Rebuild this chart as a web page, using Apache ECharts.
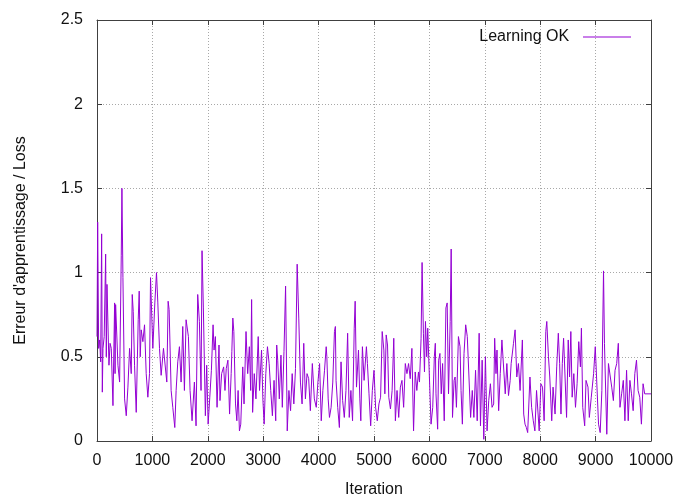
<!DOCTYPE html>
<html lang="fr">
<head>
    <meta charset="UTF-8">
    <title>Learning OK</title>
    <script src="https://cdn.jsdelivr.net/npm/echarts@6/dist/echarts.min.js"></script>
    <style>
        html, body { margin: 0; padding: 0; background: #fff; }
    </style>
</head>
<body>
    <div id="ec" style="width:678px;height:497px"></div>
<script>
    // iterations and loss
    var iters = [
        0, 12, 30, 48, 66, 84, 96, 108, 130, 156, 168, 180, 216, 236, 258, 288, 318, 326, 336, 378,
        408, 438, 450, 468, 498, 528, 558, 588, 618, 636, 654, 678, 708, 744, 762, 780, 798, 828, 858, 888,
        918, 948, 966, 978, 1008, 1044, 1074, 1098, 1128, 1158, 1200, 1236, 1260, 1284, 1302, 1338, 1368, 1404, 1428, 1458,
        1488, 1518, 1548, 1578, 1608, 1650, 1680, 1716, 1758, 1788, 1818, 1848, 1878, 1896, 1920, 1956, 1980,
        2006, 2036, 2065, 2095, 2113, 2137, 2167, 2202, 2220, 2250, 2286, 2310, 2333, 2363, 2393, 2422, 2434, 2452, 2470, 2500,
        2524, 2547, 2571, 2595, 2631, 2654, 2690, 2720, 2750, 2774, 2791, 2809, 2839, 2869, 2910, 2934, 2970, 2994,
        3017, 3047, 3077, 3107, 3136, 3166, 3196, 3226, 3244, 3262, 3291, 3321, 3345, 3375, 3404, 3434, 3464, 3494,
        3523, 3553, 3583, 3613, 3642, 3672, 3702, 3732, 3762, 3791, 3821, 3851, 3887, 3923, 3958, 3988,
        4018, 4048, 4077, 4107, 4137, 4149, 4173, 4196, 4226, 4256, 4286, 4303, 4315, 4345, 4375, 4405, 4434, 4464, 4494,
        4524, 4553, 4583, 4613, 4643, 4660, 4684, 4720, 4744, 4762, 4791, 4821, 4863, 4881, 4910, 4940, 4970,
        5000, 5029, 5059, 5089, 5119, 5148, 5178, 5196, 5220, 5244, 5267, 5297, 5327, 5357, 5386, 5416, 5446, 5476,
        5505, 5535, 5565, 5595, 5624, 5654, 5684, 5714, 5744, 5773, 5803, 5821, 5850, 5868, 5892, 5911, 5929, 5952, 5970,
        6000, 6030, 6060, 6089, 6107, 6119, 6149, 6167, 6190, 6214, 6238, 6268, 6298, 6321, 6345, 6375, 6393, 6417, 6446, 6464,
        6488, 6524, 6553, 6571, 6595, 6625, 6655, 6684, 6714, 6744, 6774, 6803, 6833, 6863, 6898, 6922, 6952, 6982,
        7011, 7041, 7071, 7101, 7131, 7160, 7178, 7202, 7220, 7250, 7279, 7309, 7339, 7369, 7398, 7428, 7458, 7476,
        7518, 7547, 7577, 7607, 7637, 7678, 7702, 7726, 7750, 7774, 7815, 7845, 7875, 7904, 7934, 7982,
        8012, 8042, 8071, 8101, 8119, 8149, 8173, 8208, 8232, 8268, 8298, 8327, 8351, 8375, 8399, 8422, 8446, 8476,
        8506, 8530, 8553, 8577, 8607, 8637, 8666, 8696, 8726, 8744, 8768, 8803, 8827, 8863, 8887, 8922, 8964, 8994,
        9023, 9053, 9083, 9113, 9143, 9160, 9184, 9202, 9232, 9262, 9291, 9321, 9351, 9381, 9410, 9440, 9470,
        9500, 9529, 9559, 9589, 9619, 9648, 9678, 9708, 9738, 9767, 9797, 9827, 9857, 9886, 9916, 9946, 10000
    ]
    var loss = [
        0.62, 1.30, 0.55, 0.60, 0.47, 1.23, 0.29, 0.55, 0.62, 1.11, 0.50, 0.93, 0.45, 0.58, 0.55, 0.21, 0.82, 0.40, 0.81, 0.45,
        0.35, 1.10, 1.50, 0.97, 0.25, 0.15, 0.32, 0.55, 0.40, 0.87, 0.77, 0.45, 0.17, 0.72, 0.89, 0.50, 0.66, 0.59, 0.69, 0.40,
        0.26, 0.40, 0.97, 0.85, 0.55, 0.82, 1.00, 0.82, 0.55, 0.39, 0.55, 0.55, 0.35, 0.83, 0.78, 0.30, 0.20, 0.08, 0.30, 0.47,
        0.56, 0.35, 0.68, 0.30, 0.72, 0.62, 0.30, 0.12, 0.35, 0.09, 0.87, 0.71, 0.30, 1.13, 0.79, 0.15, 0.45,
        0.10, 0.26, 0.42, 0.69, 0.54, 0.62, 0.20, 0.57, 0.24, 0.40, 0.44, 0.30, 0.43, 0.48, 0.16, 0.40, 0.53, 0.73, 0.65, 0.22,
        0.12, 0.30, 0.06, 0.10, 0.44, 0.22, 0.65, 0.40, 0.56, 0.30, 0.84, 0.17, 0.40, 0.25, 0.62, 0.30, 0.54, 0.25,
        0.10, 0.40, 0.56, 0.46, 0.30, 0.15, 0.36, 0.12, 0.57, 0.48, 0.25, 0.51, 0.20, 0.53, 0.92, 0.06, 0.30, 0.18,
        0.40, 0.22, 0.43, 1.05, 0.73, 0.35, 0.22, 0.58, 0.25, 0.40, 0.37, 0.18, 0.46, 0.25, 0.20, 0.35,
        0.46, 0.12, 0.30, 0.42, 0.56, 0.50, 0.25, 0.14, 0.20, 0.35, 0.65, 0.68, 0.36, 0.20, 0.08, 0.47, 0.24, 0.14, 0.30,
        0.64, 0.14, 0.30, 0.12, 0.67, 0.83, 0.32, 0.54, 0.25, 0.12, 0.56, 0.36, 0.56, 0.46, 0.28, 0.09, 0.30,
        0.42, 0.20, 0.12, 0.22, 0.26, 0.65, 0.54, 0.28, 0.63, 0.57, 0.26, 0.19, 0.30, 0.61, 0.12, 0.30, 0.14, 0.32,
        0.36, 0.20, 0.46, 0.40, 0.46, 0.37, 0.55, 0.06, 0.41, 0.30, 0.41, 0.35, 0.61, 1.06, 0.64, 0.41, 0.71, 0.50, 0.67,
        0.38, 0.10, 0.20, 0.50, 0.58, 0.28, 0.07, 0.48, 0.52, 0.28, 0.46, 0.12, 0.79, 0.82, 0.28, 0.71, 1.14, 0.14, 0.36, 0.38,
        0.20, 0.62, 0.56, 0.30, 0.10, 0.52, 0.69, 0.62, 0.38, 0.14, 0.30, 0.14, 0.42, 0.12, 0.64, 0.09, 0.48, 0.01,
        0.50, 0.06, 0.24, 0.34, 0.20, 0.22, 0.61, 0.40, 0.54, 0.18, 0.40, 0.60, 0.59, 0.28, 0.46, 0.27, 0.36, 0.46,
        0.58, 0.66, 0.38, 0.46, 0.30, 0.60, 0.16, 0.10, 0.08, 0.05, 0.38, 0.20, 0.12, 0.06, 0.30, 0.06,
        0.34, 0.32, 0.12, 0.65, 0.71, 0.50, 0.38, 0.12, 0.32, 0.16, 0.44, 0.64, 0.46, 0.16, 0.46, 0.61, 0.60, 0.14,
        0.60, 0.38, 0.65, 0.26, 0.40, 0.20, 0.34, 0.59, 0.44, 0.67, 0.20, 0.09, 0.36, 0.32, 0.14, 0.26, 0.40, 0.56,
        0.57, 0.10, 0.05, 0.30, 1.01, 0.58, 0.58, 0.04, 0.46, 0.46, 0.32, 0.24, 0.42, 0.46, 0.58, 0.20, 0.28,
        0.36, 0.12, 0.42, 0.12, 0.36, 0.28, 0.18, 0.40, 0.48, 0.30, 0.26, 0.10, 0.34, 0.28, 0.28, 0.28, 0.28
    ]

    var font = 'Liberation Sans'
    var borderColor = '#404040'
    var gridColor = '#a8a8a8'

    var mychart = echarts.init(document.getElementById('ec'))

    function frameAxis(pos, withLabels, margin) {
        return {
            type: 'value',
            position: pos,
            axisLine: { show: true, onZero: false, lineStyle: { color: borderColor, width: 1 } },
            axisTick: { show: true, inside: true, length: 5, lineStyle: { color: borderColor } },
            axisLabel: {
                show: withLabels, fontFamily: font, fontSize: 16, color: '#111', margin: margin,
                formatter: function (v) { return String(v) }
            },
            splitLine: { show: withLabels, lineStyle: { color: gridColor, type: [1, 2], width: 1 } }
        }
    }

    var xBottom = frameAxis('bottom', true, 12)
    xBottom.min = 0; xBottom.max = 10000; xBottom.interval = 1000
    xBottom.name = 'Iteration'
    xBottom.nameLocation = 'middle'
    xBottom.nameGap = 41
    xBottom.nameTextStyle = { fontFamily: font, fontSize: 16, color: '#111' }
    var xTop = frameAxis('top', false, 8)
    xTop.min = 0; xTop.max = 10000; xTop.interval = 1000

    var yLeft = frameAxis('left', true, 14)
    yLeft.min = 0; yLeft.max = 2.5; yLeft.interval = 0.5
    yLeft.name = "Erreur d'apprentissage / Loss"
    yLeft.nameLocation = 'middle'
    yLeft.nameGap = 68
    yLeft.nameTextStyle = { fontFamily: font, fontSize: 16, color: '#111', padding: [0, 20, 0, 0] }
    var yRight = frameAxis('right', false, 8)
    yRight.min = 0; yRight.max = 2.5; yRight.interval = 0.5

    var points = iters.map(function (it, i) { return [it, loss[i]] })

    var options = {
        animation: false,
        backgroundColor: '#fff',
        grid: { left: 97, right: 27, top: 20, bottom: 56, outerBoundsMode: 'none', containLabel: false },
        legend: {
            right: 42,
            top: 24,
            align: 'right',
            icon: 'rect',
            itemWidth: 48,
            itemHeight: 1,
            formatter: function (n) { return n + '  ' },
            textStyle: { fontFamily: font, fontSize: 16, color: '#111' },
            data: ['Learning OK']
        },
        xAxis: [xBottom, xTop],
        yAxis: [yLeft, yRight],
        series: [{
            name: 'Learning OK',
            type: 'line',
            xAxisIndex: 0,
            yAxisIndex: 0,
            symbol: 'none',
            color: '#9400d3',
            lineStyle: { width: 1, color: '#9400d3' },
            data: points
        }]
    }
    mychart.setOption(options)
</script>
</body>
</html>
